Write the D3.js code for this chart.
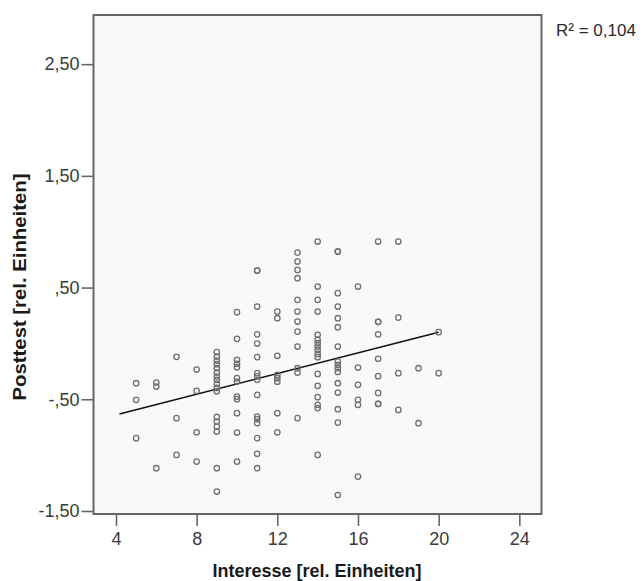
<!DOCTYPE html>
<html>
<head>
<meta charset="utf-8">
<script src="https://cdn.jsdelivr.net/npm/d3@7"></script>
<style>
  html, body { margin: 0; padding: 0; background: #fff; }
  svg { display: block; font-family: "Liberation Sans", Arial, sans-serif; }
</style>
</head>
<body>
<svg id="chart" width="642" height="581"></svg>
<script>
// Interest score (x) levels and the posttest scores observed at each level
const interesseLevels = [5, 6, 7, 8, 9, 10, 11, 12, 13, 14, 15, 16, 17, 18, 19, 20];
const posttestByLevel = [
  [-0.356, -0.505, -0.848],
  [-0.350, -0.386, -1.117],
  [-0.120, -0.669, -0.998],
  [-0.234, -0.425, -0.795, -1.058],
  [-0.078, -0.118, -0.154, -0.186, -0.222, -0.261, -0.297, -0.326, -0.362, -0.398, -0.428,
   -0.658, -0.700, -0.744, -0.789, -1.117, -1.326],
  [0.280, 0.041, -0.147, -0.183, -0.213, -0.311, -0.341, -0.476, -0.499, -0.624, -0.798, -1.058],
  [0.652, 0.652, 0.330, 0.081, -0.001, -0.123, -0.266, -0.293, -0.326, -0.461, -0.655, -0.678,
   -0.714, -0.848, -0.988, -1.117],
  [0.285, 0.226, -0.111, -0.282, -0.311, -0.342, -0.624, -0.795],
  [0.813, 0.733, 0.658, 0.584, 0.390, 0.285, 0.196, 0.106, -0.028, -0.222, -0.261, -0.669],
  [0.912, 0.509, 0.390, 0.285, 0.077, 0.032, 0.002, -0.028, -0.058, -0.094, -0.123, -0.273,
   -0.380, -0.481, -0.550, -0.579, -0.998],
  [0.822, 0.822, 0.450, 0.330, 0.226, 0.145, -0.028, -0.162, -0.192, -0.222, -0.255, -0.356,
   -0.440, -0.589, -0.709, -1.357],
  [0.509, -0.216, -0.371, -0.505, -0.550, -1.192],
  [0.912, 0.193, 0.193, 0.081, -0.137, -0.293, -0.443, -0.541, -0.541],
  [0.912, 0.231, -0.266, -0.595],
  [-0.222, -0.714],
  [0.101, -0.266]
];

// Linear fit (total) and its explained variance
const fitIntercept = -0.824;
const fitSlope = 0.0462;
const fitRange = [4.17, 20];
const rSquaredLabel = "R² = 0,104";

// Axis ticks
const xTickValues = [4, 8, 12, 16, 20, 24];
const yTickValues = [2.5, 1.5, 0.5, -0.5, -1.5];
const yTickLabels = ["2,50", "1,50", ",50", "-,50", "-1,50"];

const xTitle = "Interesse [rel. Einheiten]";
const yTitle = "Posttest [rel. Einheiten]";

const points = interesseLevels.flatMap((lvl, i) =>
  posttestByLevel[i].map(v => ({ x: lvl, y: v })));

const svg = d3.select("#chart");
const frame = { left: 93.5, right: 541.5, top: 15, bottom: 514 };

const x = d3.scaleLinear().domain([2.885, 25.1]).range([frame.left, frame.right]);
const y = d3.scaleLinear().domain([-1.527, 2.94]).range([frame.bottom, frame.top]);

// plot area
svg.append("rect")
  .attr("x", frame.left).attr("y", frame.top)
  .attr("width", frame.right - frame.left).attr("height", frame.bottom - frame.top)
  .attr("fill", "#f9f9f9");

// axes
const yAxis = d3.axisLeft(y)
  .tickValues(yTickValues)
  .tickFormat((d, i) => yTickLabels[i])
  .tickSize(12).tickSizeOuter(0).tickPadding(2);
const gy = svg.append("g").attr("transform", `translate(${frame.left},0)`).call(yAxis);

const xAxis = d3.axisBottom(x)
  .tickValues(xTickValues)
  .tickFormat(d3.format("d"))
  .tickSize(12).tickSizeOuter(0).tickPadding(6);
const gx = svg.append("g").attr("transform", `translate(0,${frame.bottom})`).call(xAxis);

[gx, gy].forEach(g => {
  g.select(".domain").remove();
  g.selectAll(".tick line").attr("stroke", "#666").attr("stroke-width", 1.6);
  g.selectAll(".tick text")
    .attr("fill", "#3a3a3a")
    .style("font-size", "18px")
    .style("font-family", "'Liberation Sans', Arial, sans-serif");
});

// fit line
const fitLine = d3.line().x(d => x(d)).y(d => y(fitIntercept + fitSlope * d));
svg.append("path")
  .datum(fitRange)
  .attr("d", fitLine)
  .attr("fill", "none")
  .attr("stroke", "#111")
  .attr("stroke-width", 1.6);

// scatter points
svg.append("g")
  .selectAll("circle")
  .data(points)
  .join("circle")
  .attr("cx", d => x(d.x))
  .attr("cy", d => y(d.y))
  .attr("r", 2.7)
  .attr("fill", "none")
  .attr("stroke", "#6f6f6f")
  .attr("stroke-width", 1.3);

// frame border
svg.append("rect")
  .attr("x", frame.left).attr("y", frame.top)
  .attr("width", frame.right - frame.left).attr("height", frame.bottom - frame.top)
  .attr("fill", "none")
  .attr("stroke", "#666")
  .attr("stroke-width", 2);

// axis titles
svg.append("text")
  .attr("x", 317).attr("y", 577)
  .attr("text-anchor", "middle")
  .attr("font-size", 18).attr("font-weight", "bold")
  .attr("fill", "#1a1a1a")
  .text(xTitle);

svg.append("text")
  .attr("transform", "translate(26,287) rotate(-90) scale(1.13,1)")
  .attr("text-anchor", "middle")
  .attr("font-size", 18).attr("font-weight", "bold")
  .attr("fill", "#1a1a1a")
  .text(yTitle);

// R² annotation
svg.append("text")
  .attr("x", 556).attr("y", 36)
  .attr("font-size", 17)
  .attr("fill", "#2a2a2a")
  .text(rSquaredLabel);
</script>
</body>
</html>
